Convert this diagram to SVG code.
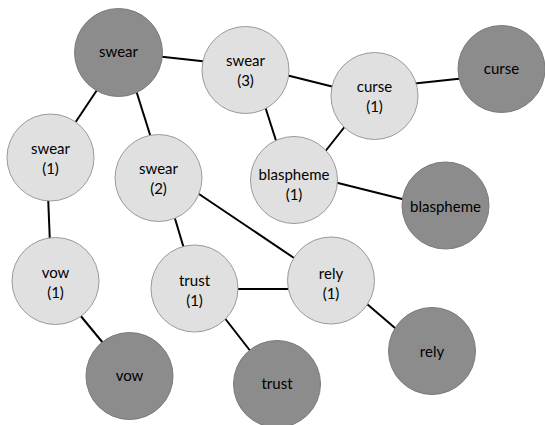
<svg xmlns="http://www.w3.org/2000/svg" width="545" height="425" viewBox="0 0 545 425">
<style>
.e{stroke:#000;stroke-width:2;fill:none}
.l{fill:#e0e0e0;stroke:#9a9a9a;stroke-width:1}
.d{fill:#8c8c8c;stroke:#7a7a7a;stroke-width:1}
text{font-family:Lato,"Open Sans","Liberation Sans",sans-serif;font-size:15px;fill:#000;text-anchor:middle}
</style>
<rect width="545" height="425" fill="#fff"/>
<g id="connectors">
<line class="e" x1="155" y1="56" x2="210" y2="62"/>
<line class="e" x1="101" y1="84" x2="71" y2="129"/>
<line class="e" x1="135" y1="87" x2="152" y2="141"/>
<line class="e" x1="282" y1="74" x2="338" y2="88"/>
<line class="e" x1="263" y1="100" x2="279" y2="150"/>
<line class="e" x1="410" y1="84" x2="466" y2="78"/>
<line class="e" x1="350" y1="120" x2="320" y2="158"/>
<line class="e" x1="330" y1="181" x2="410" y2="201"/>
<line class="e" x1="48" y1="195" x2="50" y2="244"/>
<line class="e" x1="75" y1="309" x2="108" y2="349"/>
<line class="e" x1="173" y1="212" x2="185" y2="252"/>
<line class="e" x1="193" y1="190" x2="300" y2="262"/>
<line class="e" x1="230" y1="289" x2="296" y2="289"/>
<line class="e" x1="220" y1="312" x2="255" y2="357"/>
<line class="e" x1="360" y1="298" x2="402" y2="334"/>
</g>
<g id="swear"><circle class="d" cx="118.5" cy="52.5" r="44"/><text x="118.5" y="57">swear</text></g>
<g id="swear3"><circle class="l" cx="245.5" cy="70" r="43.5"/><text x="245.5" y="66">swear</text><text x="245.5" y="86">(3)</text></g>
<g id="curse1"><circle class="l" cx="374.5" cy="96" r="43.5"/><text x="374.5" y="92">curse</text><text x="374.5" y="112">(1)</text></g>
<g id="curse"><circle class="d" cx="501.5" cy="69" r="43.5"/><text x="501.5" y="74">curse</text></g>
<g id="swear1"><circle class="l" cx="50.5" cy="157.5" r="43.5"/><text x="50.5" y="154">swear</text><text x="50.5" y="174">(1)</text></g>
<g id="swear2"><circle class="l" cx="158.5" cy="178" r="43.5"/><text x="158.5" y="174">swear</text><text x="158.5" y="194">(2)</text></g>
<g id="blaspheme1"><circle class="l" cx="294" cy="180" r="43.5"/><text x="294" y="180">blaspheme</text><text x="294" y="200">(1)</text></g>
<g id="blaspheme"><circle class="d" cx="445.5" cy="205.5" r="43.5"/><text x="445.5" y="212">blaspheme</text></g>
<g id="vow1"><circle class="l" cx="55.5" cy="281" r="43.5"/><text x="55.5" y="278">vow</text><text x="55.5" y="298">(1)</text></g>
<g id="trust1"><circle class="l" cx="194.5" cy="288.5" r="43.5"/><text x="194.5" y="286">trust</text><text x="194.5" y="306">(1)</text></g>
<g id="rely1"><circle class="l" cx="331" cy="280.5" r="43.5"/><text x="331" y="279">rely</text><text x="331" y="299">(1)</text></g>
<g id="vow"><circle class="d" cx="129.5" cy="376" r="43.5"/><text x="129.5" y="381">vow</text></g>
<g id="trust"><circle class="d" cx="277" cy="384" r="43.5"/><text x="277" y="389">trust</text></g>
<g id="rely"><circle class="d" cx="432" cy="351" r="43.5"/><text x="432" y="357">rely</text></g>
</svg>
